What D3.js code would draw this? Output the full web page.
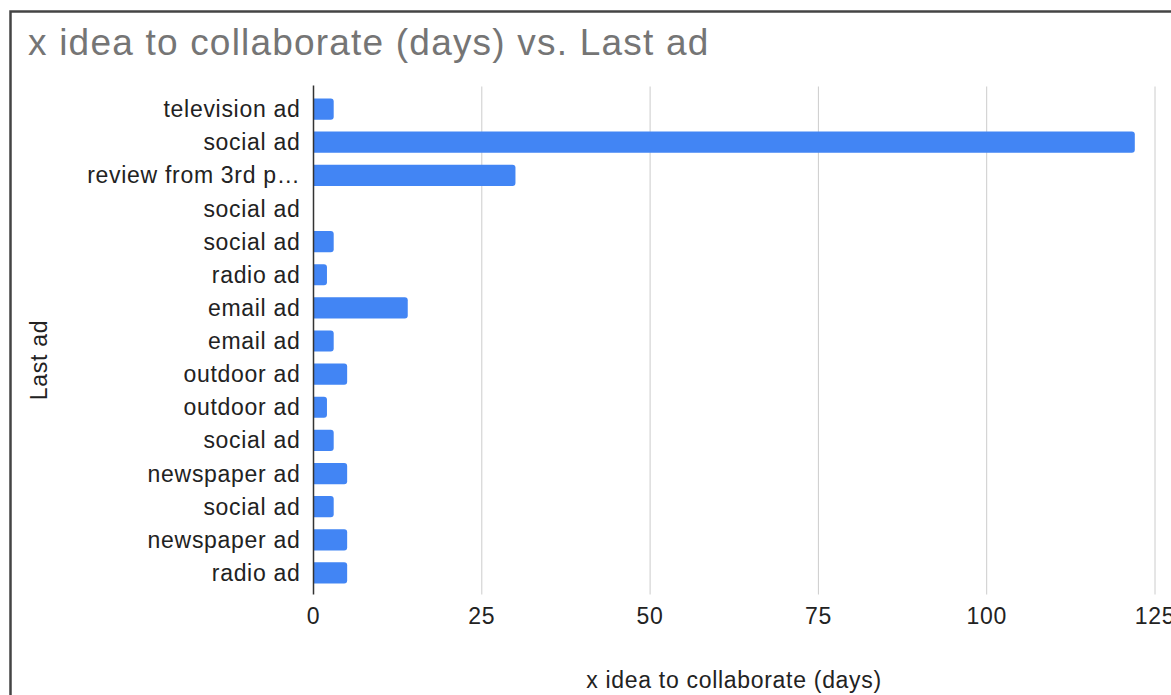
<!DOCTYPE html>
<html>
<head>
<meta charset="utf-8">
<script src="https://cdn.jsdelivr.net/npm/d3@7"></script>
<style>
  html, body { margin: 0; padding: 0; background: #fff; overflow: hidden; }
  svg { display: block; }
</style>
</head>
<body>
<div id="chart"></div>
<script>
// ===========================================================
// DATA
// ===========================================================
var categories = [
    "television ad", "social ad", "review from 3rd p\u2026", "social ad", "social ad",
    "radio ad", "email ad", "email ad", "outdoor ad", "outdoor ad",
    "social ad", "newspaper ad", "social ad", "newspaper ad", "radio ad"
];
var days = [3, 122, 30, 0, 3, 2, 14, 3, 5, 2, 3, 5, 3, 5, 5];
var xTicks = [0, 25, 50, 75, 100, 125];

var chartTitle = "x idea to collaborate (days) vs. Last ad";
var xTitle = "x idea to collaborate (days)";
var yTitle = "Last ad";

// ===========================================================
// SIZES
// ===========================================================
var svgWidth = 1171;
var svgHeight = 695;

var margin = { top: 92.5, right: 16, bottom: 105.5, left: 313.5 };
var width = svgWidth - margin.left - margin.right;
var height = svgHeight - margin.top - margin.bottom;

var font = "Arial, 'Liberation Sans', sans-serif";
var labelSize = 23;
var labelSpacing = 0.7;

var svg = d3.select('#chart')
    .append('svg')
    .attr('width', svgWidth)
    .attr('height', svgHeight);

// outer frame (runs off the right and bottom edges)
svg.append('rect')
    .attr('x', 10.5)
    .attr('y', 11.5)
    .attr('width', 1200)
    .attr('height', 720)
    .attr('fill', 'none')
    .attr('stroke', '#444')
    .attr('stroke-width', 2.5);

svg.append('text')
    .attr('x', 28)
    .attr('y', 55)
    .attr('font-family', font)
    .attr('font-size', 37)
    .attr('letter-spacing', 1.2)
    .attr('fill', '#757575')
    .text(chartTitle);

var chartGroup = svg.append('g')
    .attr('transform', `translate(${margin.left}, ${margin.top})`);

// ===========================================================
// SCALES
// ===========================================================
var x = d3.scaleLinear()
    .domain([0, 125])
    .range([0, 841.5]);

var y = d3.scaleBand()
    .domain(d3.range(categories.length))
    .range([0, height])
    .paddingInner(0.36)
    .paddingOuter(0.18);

// gridlines
chartGroup.append('g')
    .selectAll('line')
    .data(xTicks.slice(1))
    .enter()
    .append('line')
    .attr('x1', d => x(d))
    .attr('x2', d => x(d))
    .attr('y1', -6)
    .attr('y2', height + 5)
    .attr('stroke', '#cccccc')
    .attr('stroke-width', 1);

// bars, rounded on the right end only
function barPath(d, i) {
    var w = x(d) - x(0);
    var y0 = y(i), h = y.bandwidth();
    var r = Math.min(3, w / 2);
    if (w <= 0) return null;
    return `M0,${y0}H${w - r}Q${w},${y0} ${w},${y0 + r}V${y0 + h - r}Q${w},${y0 + h} ${w - r},${y0 + h}H0Z`;
}

chartGroup.append('g')
    .selectAll('path')
    .data(days)
    .enter()
    .append('path')
    .attr('fill', '#4285f4')
    .attr('d', barPath);

// baseline axis
chartGroup.append('line')
    .attr('x1', 0)
    .attr('x2', 0)
    .attr('y1', -7)
    .attr('y2', height + 5)
    .attr('stroke', '#333')
    .attr('stroke-width', 1.5);

// ===========================================================
// LABELS
// ===========================================================
chartGroup.append('g')
    .selectAll('text')
    .data(categories)
    .enter()
    .append('text')
    .attr('x', -13)
    .attr('y', (d, i) => y(i) + y.bandwidth() / 2)
    .attr('dy', '0.35em')
    .attr('text-anchor', 'end')
    .attr('font-family', font)
    .attr('font-size', labelSize)
    .attr('letter-spacing', labelSpacing)
    .attr('fill', '#222')
    .text(d => d);

chartGroup.append('g')
    .selectAll('text')
    .data(xTicks)
    .enter()
    .append('text')
    .attr('x', d => x(d))
    .attr('y', height + 34)
    .attr('text-anchor', 'middle')
    .attr('font-family', font)
    .attr('font-size', labelSize)
    .attr('letter-spacing', labelSpacing)
    .attr('fill', '#222')
    .text(d => d);

svg.append('text')
    .attr('x', 734)
    .attr('y', 688)
    .attr('text-anchor', 'middle')
    .attr('font-family', font)
    .attr('font-size', labelSize)
    .attr('letter-spacing', labelSpacing)
    .attr('fill', '#222')
    .text(xTitle);

svg.append('text')
    .attr('transform', 'translate(47, 360) rotate(-90)')
    .attr('text-anchor', 'middle')
    .attr('font-family', font)
    .attr('font-size', labelSize)
    .attr('letter-spacing', labelSpacing)
    .attr('fill', '#222')
    .text(yTitle);
</script>
</body>
</html>
